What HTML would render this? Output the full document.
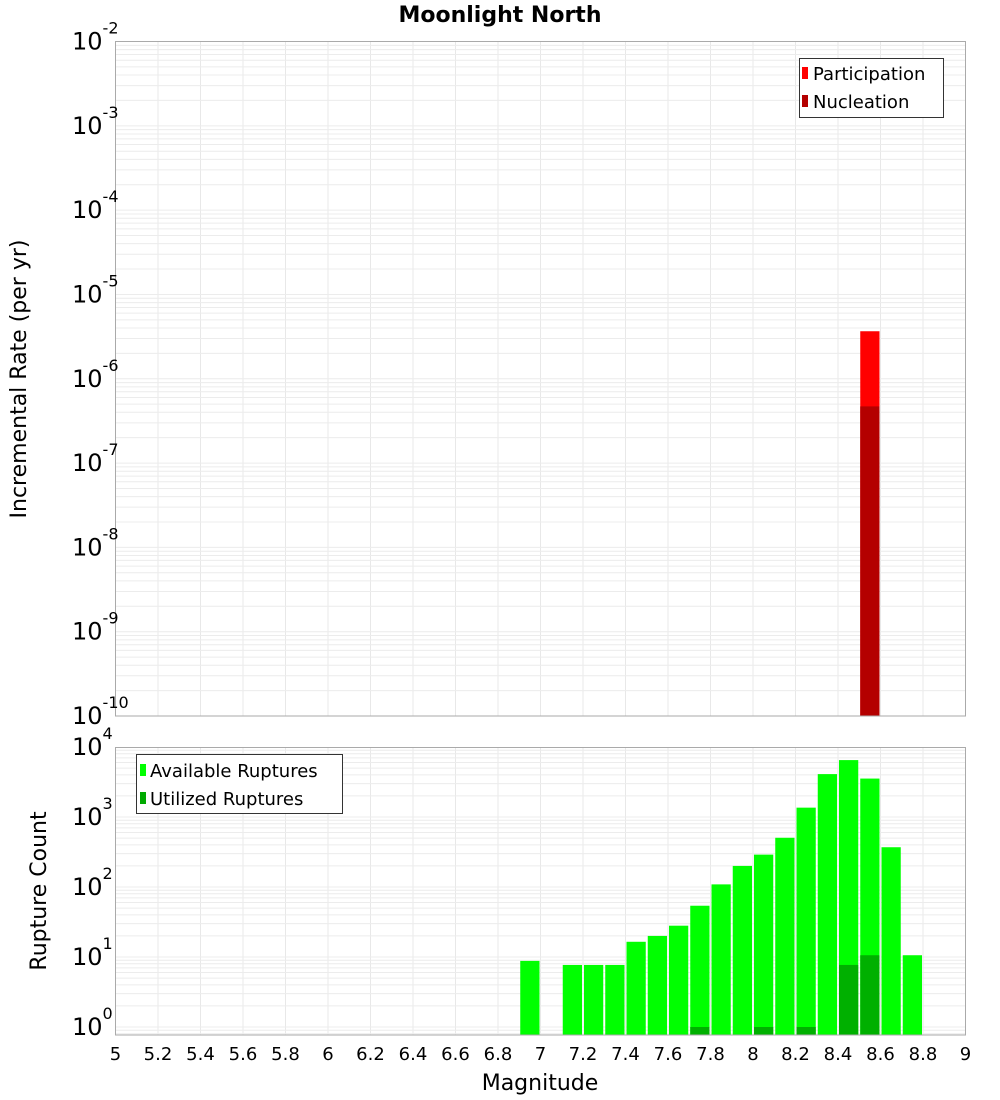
<!DOCTYPE html>
<html><head><meta charset="utf-8"><style>
body{margin:0;background:#fff;width:1000px;height:1100px;overflow:hidden}
svg{display:block;font-family:"DejaVu Sans","Liberation Sans",sans-serif}
</style></head><body>
<svg id="chart" width="1000" height="1100" xmlns="http://www.w3.org/2000/svg">
<text x="500" y="22" text-anchor="middle" font-size="22" font-weight="bold">Moonlight North</text>
<text transform="translate(26,379) rotate(-90)" text-anchor="middle" font-size="22">Incremental Rate (per yr)</text>
<text transform="translate(46,891) rotate(-90)" text-anchor="middle" font-size="22">Rupture Count</text>
<text x="540" y="1090" text-anchor="middle" font-size="22">Magnitude</text>
<g id="grid"></g><g id="bars"></g><g id="axes"></g>
<g>
<rect x="799.5" y="58.5" width="144" height="59" fill="#fff" stroke="#333"/>
<rect x="802" y="67" width="6" height="12" fill="#ff0000"/>
<text x="813" y="80" font-size="18">Participation</text>
<rect x="802" y="95" width="6" height="12" fill="#b40000"/>
<text x="813" y="108" font-size="18">Nucleation</text>
</g>
<g>
<rect x="136.5" y="754.5" width="206" height="59" fill="#fff" stroke="#333"/>
<rect x="140" y="764" width="6" height="12" fill="#00ff00"/>
<text x="150" y="777" font-size="18">Available Ruptures</text>
<rect x="140" y="792" width="6" height="12" fill="#00aa00"/>
<text x="150" y="805" font-size="18">Utilized Ruptures</text>
</g>
</svg>
<script>
const xTicks=["5","5.2","5.4","5.6","5.8","6","6.2","6.4","6.6","6.8","7","7.2","7.4","7.6","7.8","8","8.2","8.4","8.6","8.8","9"];
const rateBins=[8.5];
const participation=[3.66e-6];
const nucleation=[4.7e-7];
const countBins=[6.9,7.1,7.2,7.3,7.4,7.5,7.6,7.7,7.8,7.9,8.0,8.1,8.2,8.3,8.4,8.5,8.6,8.7];
const available=[8.8,7.7,7.7,7.7,16.5,20,28,54,109,200,290,505,1360,4100,6500,3540,370,10.6];
const utilizedBins=[7.7,8.0,8.2,8.4,8.5];
const utilized=[1,1,1,7.7,10.6];
const topExp=[-10,-9,-8,-7,-6,-5,-4,-3,-2];
const botExp=[0,1,2,3,4];

const NS="http://www.w3.org/2000/svg";
const L=115.5,R=965.5;
const X=m=>L+(m-5)*(R-L)/4;
const T0=41.5,T1=716;
const yTop=v=>T1-(Math.log10(v)+10)*(T1-T0)/8;
const B0=747.5,B1=1035;
const yBot=v=>1027-Math.log10(v)*70;
function el(parent,tag,attrs){const e=document.createElementNS(NS,tag);for(const k in attrs)e.setAttribute(k,attrs[k]);document.getElementById(parent).appendChild(e);return e;}
// grids
for(const t of xTicks){const x=X(+t);
 let g=el('grid','line',{x1:x,x2:x,y1:T0,y2:T1,stroke:'#e8e8e8'});
 
 
 g=el('grid','line',{x1:x,x2:x,y1:B0,y2:B1,stroke:'#e8e8e8'});
 
 
}
for(let e=-10;e<-2;e++)for(let k=1;k<10;k++){const y=yTop(k*Math.pow(10,e));
 const g=el('grid','line',{x1:L,x2:R,y1:y,y2:y,stroke:'#ececec'});
 
 }
for(let e=-1;e<5;e++)for(let k=1;k<10;k++){const y=yBot(k*Math.pow(10,e));if(y<B0||y>B1)continue;
 const g=el('grid','line',{x1:L,x2:R,y1:y,y2:y,stroke:'#ececec'});
 
 }
// top bars
rateBins.forEach((m,i)=>{
 let r=el('bars','rect',{x:X(m)+1,y:yTop(participation[i]),width:X(m+0.1)-X(m)-2,height:T1-yTop(participation[i]),fill:'#ff0000'});
 
 
 r=el('bars','rect',{x:X(m)+1,y:yTop(nucleation[i]),width:X(m+0.1)-X(m)-2,height:T1-yTop(nucleation[i]),fill:'#b40000'});
 
 
});
countBins.forEach((m,i)=>{
 const r=el('bars','rect',{x:X(m)+1,y:yBot(available[i]),width:X(m+0.1)-X(m)-2,height:B1-yBot(available[i]),fill:'#00ff00'});
 
 
});
utilizedBins.forEach((m,i)=>{
 const r=el('bars','rect',{x:X(m)+1,y:yBot(utilized[i]),width:X(m+0.1)-X(m)-2,height:B1-yBot(utilized[i]),fill:'#00b000'});
 
 
});
// frames
let f=el('axes','rect',{x:L,y:T0,width:R-L,height:T1-T0,fill:'none',stroke:'#aaa'});


f=el('axes','rect',{x:L,y:B0,width:R-L,height:B1-B0,fill:'none',stroke:'#aaa'});


// tick labels
for(const t of xTicks){const tx=el('axes','text',{x:X(+t),y:1060,'text-anchor':'middle','font-size':'18'});tx.textContent=t;
 
 }
function expLabel(y,e,name){const tx=el('axes','text',{x:72,y:y+8,'font-size':'24'});
 
 
 tx.textContent='10';
 const s=document.createElementNS(NS,'tspan');s.setAttribute('dy','-16');s.setAttribute('font-size','16');s.textContent=e;tx.appendChild(s);}
for(const e of topExp)expLabel(yTop(Math.pow(10,e)),String(e),'top-y-tick-label');
for(const e of botExp)expLabel(yBot(Math.pow(10,e)),String(e),'bottom-y-tick-label');
</script>
</body></html>
